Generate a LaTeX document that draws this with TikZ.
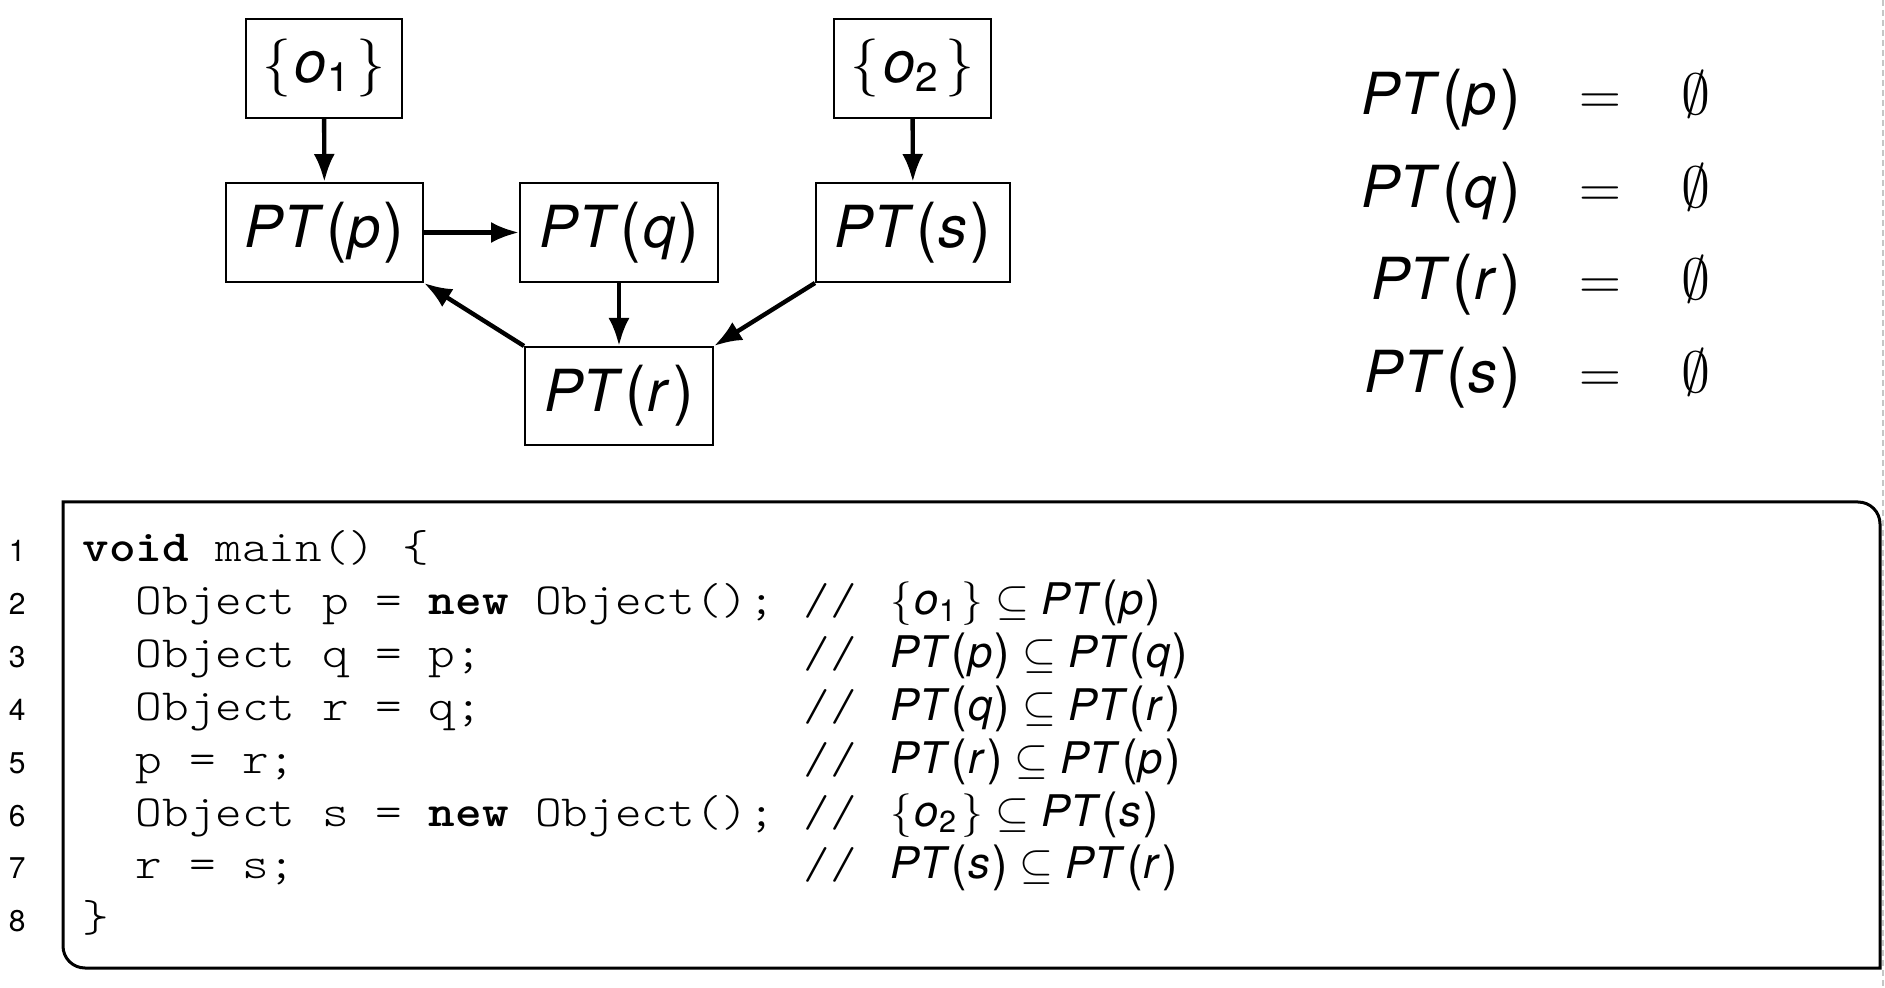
\RequirePackage{fix-cm}
\documentclass[tikz,border=0pt]{standalone}
\usepackage{amsmath}
\usepackage{graphicx}
\usepackage{fontspec}
\setmainfont{TeX Gyre Heros}
\newfontfamily\codefont{lmmonolt10-regular.otf}[FakeStretch=1.14,BoldFont=lmmonolt10-bold.otf]
\usetikzlibrary{arrows.meta}
\newcommand\mv[1]{\textit{#1}}
\newcommand\lp{\kern0.04em\raisebox{-0.03em}{\scalebox{1.06}[1.12]{(}}\kern0.03em}
\newcommand\rp{\kern0.05em\raisebox{-0.03em}{\scalebox{1.06}[1.12]{)}}}
\newcommand\PT[1]{\mv{PT}\lp\mv{#1}\rp}
\newcommand\objset[1]{$\{$\kern0.06em\mv{o}\textsubscript{#1}\kern0.1em$\}$}
\newcommand\bigfont{\fontsize{29}{34}\selectfont}
\newcommand\cmtfont{\fontsize{21.8}{26}\selectfont}
\newcommand\numfont{\fontsize{15}{18}\selectfont}
\newcommand\cfont{\codefont\fontsize{22.25}{26}\selectfont}
\begin{document}
\begin{tikzpicture}[x=0.5pt,y=-0.5pt,
  box/.style={draw,line width=1pt,inner sep=0pt,font=\bigfont,anchor=center},
  arr/.style={line width=2.2pt,-{Latex[length=14pt,width=10.5pt]}},
  code/.style={anchor=base west,inner sep=0pt,font=\cfont},
  cmt/.style={anchor=base west,inner sep=0pt,font=\cmtfont},
  lnum/.style={anchor=base east,inner sep=0pt,font=\numfont},
  eqs/.style={inner sep=0pt,font=\bigfont}]
\useasboundingbox (0,0) rectangle (1885,988);
% graph
\node[box,minimum width=78pt,minimum height=49.5pt] (o1) at (324,68.5) {\objset{1}};
\node[box,minimum width=78.5pt,minimum height=49.5pt] (o2) at (912.5,68.5) {\objset{2}};
\node[box,minimum width=98.5pt,minimum height=49.5pt] (p) at (324.5,232.5) {\PT{p}};
\node[box,minimum width=99pt,minimum height=49.5pt] (q) at (619,232.5) {\PT{q}};
\node[box,minimum width=97pt,minimum height=49.5pt] (s) at (913,232.5) {\PT{s}};
\node[box,minimum width=94pt,minimum height=49pt] (r) at (619,396) {\PT{r}};
\draw[arr] (o1) -- (p);
\draw[arr] (p) -- (q);
\draw[arr] (q) -- (r);
\draw[arr] (o2) -- (s);
\draw[arr] (r.north west) -- (p.south east);
\draw[arr] (s.south west) -- (r.north east);
% equations
\foreach \v/\k in {p/0,q/1,r/2,s/3}{
  \node[eqs,anchor=base east] (lhs\v) at (1521,115+92.5*\k) {\PT{\v}};
  \node[eqs,anchor=base] (eq\v) at (1600,115+92.5*\k) {$=$};
  \node[eqs,anchor=base west] (rhs\v) at (1681,115+92.5*\k) {$\emptyset$};
}
% code box
\draw[line width=1.5pt] (63,502) -- (1858,502) .. controls (1870.2,502) and (1880,511.8) .. (1880,524)
  -- (1880,968) -- (85,968) .. controls (72.8,968) and (63,958.2) .. (63,946) -- cycle;
% line numbers
\foreach \i in {1,...,8}{
  \node[lnum] (n\i) at (26,561.5+52.9*\i-52.9) {\i};
}
% code
\node[code] (c1) at (82,561.5) {{\bfseries void} main() \{};
\node[code] (c2) at (135.4,614.4) {Object p = {\bfseries new} Object();};
\node[code] (c3) at (135.4,667.3) {Object q = p;};
\node[code] (c4) at (135.4,720.2) {Object r = q;};
\node[code] (c5) at (135.4,773.1) {p = r;};
\node[code] (c6) at (135.4,826) {Object s = {\bfseries new} Object();};
\node[code] (c7) at (135.4,878.9) {r = s;};
\node[code] (c8) at (82,931.8) {\}};
\foreach \j in {2,...,7}{
  \node[code] (sl\j) at (803,561.5+52.9*\j-52.9) {//};
}
\node[cmt] (m2) at (890,614.4) {\objset{1} $\subseteq$ \PT{p}};
\node[cmt] (m3) at (890,667.3) {\PT{p} $\subseteq$ \PT{q}};
\node[cmt] (m4) at (890,720.2) {\PT{q} $\subseteq$ \PT{r}};
\node[cmt] (m5) at (890,773.1) {\PT{r} $\subseteq$ \PT{p}};
\node[cmt] (m6) at (890,826) {\objset{2} $\subseteq$ \PT{s}};
\node[cmt] (m7) at (890,878.9) {\PT{s} $\subseteq$ \PT{r}};
% page edge
\draw[gray!45,line width=0.6pt,dash pattern=on 3pt off 2pt] (1883,0) -- (1883,988);
\end{tikzpicture}
\end{document}
